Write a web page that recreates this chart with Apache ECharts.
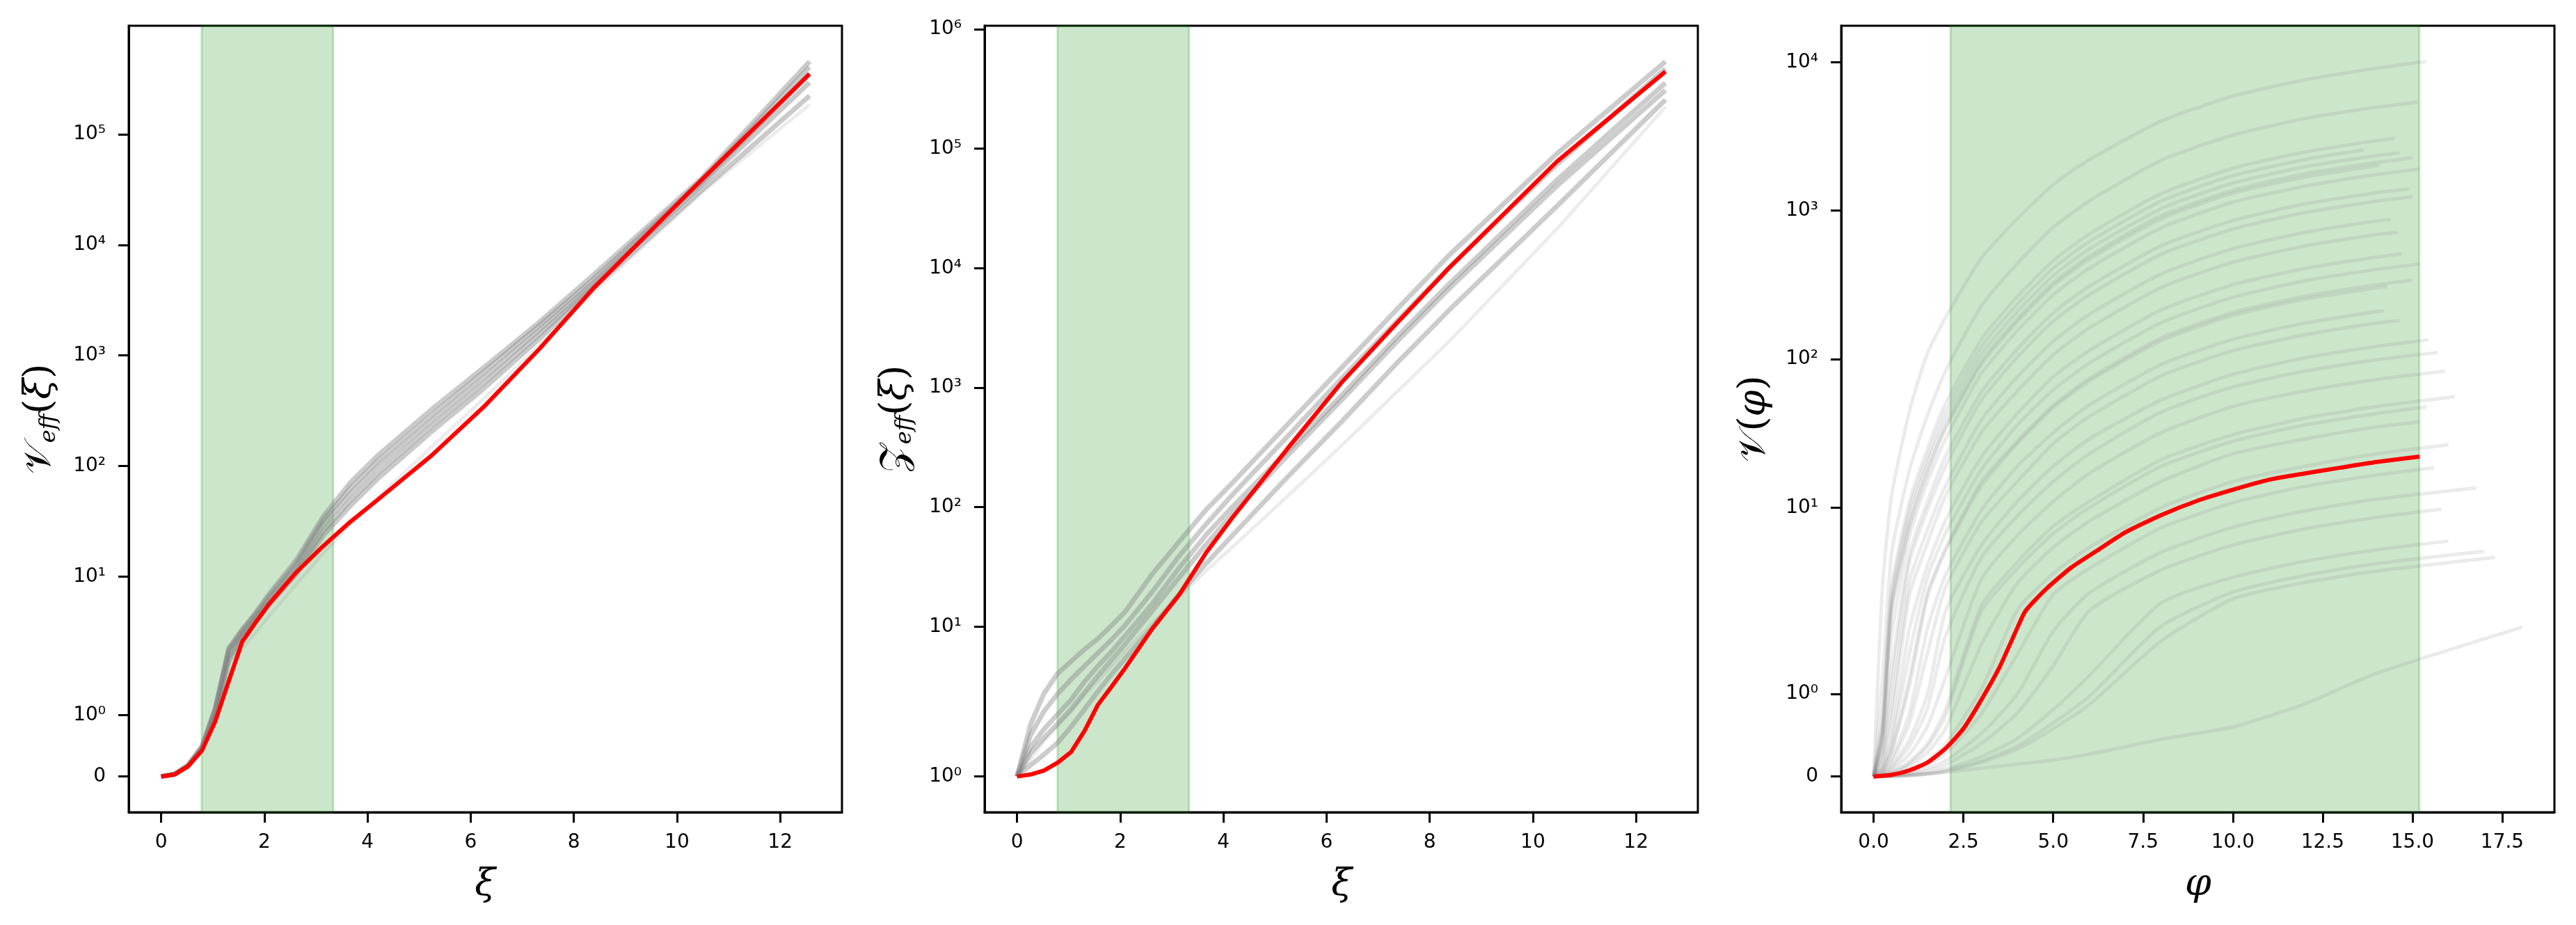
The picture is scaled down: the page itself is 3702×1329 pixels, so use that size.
<!DOCTYPE html>
<html>
<head>
<meta charset="utf-8">
<script src="https://cdn.jsdelivr.net/npm/echarts@6/dist/echarts.min.js"></script>
<style>
  html, body { margin: 0; padding: 0; background: #fff; }
  #chart { width: 3702px; height: 1329px; }
</style>
</head>
<body>
<div id="chart"></div>
<script>
// ---- panel 1 & 2: x grid (xi) ----
const xi = [0, 0.26, 0.52, 0.79, 1.05, 1.31, 1.57, 1.83, 2.09, 2.62, 3.14, 3.67, 4.19, 5.24, 6.28, 7.33, 8.38, 10.47, 12.57]

// V_eff(xi): red curve + gray ensemble
const veffRed = [0, 0.032, 0.166, 0.42, 0.90, 1.55, 2.56, 3.83, 5.62, 10.9, 18.8, 31.3, 49.1, 124, 352, 1143, 4056, 38560, 352400]
const veffGray = [
  [0, 0.036, 0.18, 0.49, 1.12, 2.24, 3.31, 4.68, 6.92, 14.1, 34.7, 70.8, 123, 324, 794, 2000, 5370, 39800, 457000],
  [0, 0.036, 0.18, 0.47, 1.08, 2.09, 3.09, 4.37, 6.17, 12.3, 29.5, 56.2, 97.7, 257, 646, 1700, 4570, 36300, 355000],
  [0, 0.036, 0.16, 0.45, 1.03, 1.94, 2.88, 4.07, 5.75, 11.2, 25.7, 49.0, 85.1, 229, 575, 1550, 4270, 34700, 295000],
  [0, 0.036, 0.18, 0.47, 1.10, 2.19, 3.24, 4.57, 6.61, 13.2, 32.4, 63.1, 110, 288, 724, 1860, 4900, 38000, 407000],
  [0, 0.036, 0.16, 0.45, 0.99, 1.87, 2.75, 3.89, 5.50, 10.5, 23.4, 43.7, 75.9, 204, 513, 1410, 4070, 30900, 224000]
]
const veffFaint = [
  [0, 0.036, 0.16, 0.43, 0.90, 1.62, 2.24, 3.09, 4.37, 8.51, 16.2, 29.5, 51.3, 148, 417, 1230, 3720, 29500, 186000]
]

// Z_eff(xi)
const zeffRed = [1.0, 1.03, 1.09, 1.21, 1.37, 1.69, 2.22, 3.13, 4.46, 9.57, 18.4, 41.8, 83.2, 308, 1090, 3350, 10100, 78300, 442000]
const zeffGray = [
  [1.0, 1.78, 2.75, 4.07, 5.13, 6.46, 7.94, 10.2, 13.2, 27.5, 51.3, 95.5, 162, 490, 1450, 4370, 12900, 91200, 537000],
  [1.0, 1.44, 1.71, 1.94, 2.45, 3.47, 4.68, 6.17, 8.32, 15.5, 30.9, 58.9, 102, 295, 851, 2570, 7410, 55000, 355000],
  [1.0, 1.17, 1.33, 1.51, 1.75, 2.04, 2.88, 3.98, 5.37, 9.77, 18.6, 33.9, 58.9, 178, 513, 1550, 4470, 33100, 257000],
  [1.0, 1.62, 1.98, 2.75, 3.63, 4.68, 6.03, 7.76, 10.2, 19.5, 38.9, 72.4, 129, 389, 1180, 3470, 10200, 74100, 468000],
  [1.0, 1.35, 1.58, 1.80, 2.04, 2.82, 3.89, 5.25, 7.08, 13.5, 25.7, 49.0, 89.1, 269, 776, 2340, 6760, 49000, 309000]
]
const zeffFaint = [
  [1.0, 1.26, 1.53, 1.76, 1.98, 2.69, 3.55, 4.68, 6.17, 10.7, 17.8, 29.5, 46.8, 123, 324, 891, 2450, 21400, 224000]
]

// ---- panel 3: V(phi) ----
const phiRed = [0, 0.5, 1.0, 1.5, 2.0, 2.5, 3.0, 3.5, 4.0, 4.23, 4.8, 5.5, 6.2, 7.0, 8.0, 9.0, 10.0, 11.0, 12.0, 13.0, 14.0, 15.2]
const vRed = [0, 0.02, 0.075, 0.17, 0.34, 0.58, 0.93, 1.32, 1.80, 2.02, 2.83, 3.95, 5.1, 6.8, 8.9, 11.1, 13.2, 15.4, 17.0, 18.6, 20.3, 22.1]
const phiGrid = [0, 0.25, 0.5, 1, 1.5, 2, 3, 4, 5, 6, 8, 10, 12, 14]
const vGray = [
  [0, 3, 12, 45, 110, 190, 480, 880, 1500, 2200, 4000, 5900, 7600, 9100],
  [0, 1.2, 4.9, 18, 42, 83, 228, 441, 772, 1160, 2180, 3230, 4170, 4970],
  [0, 0.73, 2.9, 11, 25, 50, 136, 263, 460, 694, 1300, 1930, 2480, 2960],
  [0, 0.65, 2.6, 9.8, 22, 44, 121, 234, 410, 618, 1160, 1720, 2210],
  [0, 0.58, 2.3, 8.7, 20, 39, 108, 209, 365, 551, 1030, 1530, 1970, 2350],
  [0, 0.52, 2.1, 7.8, 18, 35, 97, 187, 328, 494, 926, 1370, 1770, 2110],
  [0, 0.5, 2.0, 7.4, 17, 34, 92, 178, 312, 470, 881, 1310, 1680, 2010],
  [0, 0.43, 1.7, 6.5, 15, 29, 80, 155, 271, 409, 765, 1140, 1460, 1750],
  [0, 0.33, 1.3, 4.9, 11, 22, 60, 117, 205, 309, 579, 858, 1110, 1320],
  [0, 0.29, 1.1, 4.3, 9.7, 19, 53, 103, 180, 271, 507, 752, 969, 1160],
  [0, 0.21, 0.84, 3.2, 7.1, 14, 39, 76, 132, 200, 374, 554, 714, 853],
  [0, 0.17, 0.68, 2.6, 5.8, 12, 32, 61, 107, 162, 303, 449, 578, 690],
  [0, 0.12, 0.48, 1.8, 4.1, 8.2, 22, 43, 76, 114, 214, 317, 408, 487],
  [0, 0.1, 0.4, 1.5, 3.4, 6.7, 18, 36, 62, 94, 176, 261, 337, 402],
  [0, 0.08, 0.31, 1.2, 2.7, 5.3, 15, 28, 49, 74, 139, 206, 265, 317],
  [0, 0.07, 0.3, 1.1, 2.5, 5.1, 14, 27, 47, 71, 133, 197, 253, 302],
  [0, 0.05, 0.21, 0.77, 1.8, 3.5, 9.6, 19, 32, 49, 92, 136, 175, 209],
  [0, 0.04, 0.17, 0.65, 1.5, 2.9, 8.0, 15, 27, 41, 77, 114, 146, 175],
  [0, 0.03, 0.12, 0.45, 1.0, 2.0, 5.6, 11, 19, 29, 53, 79, 102, 122],
  [0, 0.025, 0.1, 0.37, 0.83, 1.7, 4.6, 8.8, 15, 23, 44, 65, 83, 99],
  [0, 0.018, 0.07, 0.27, 0.61, 1.2, 3.3, 6.5, 11, 17, 32, 48, 61, 73],
  [0, 0.012, 0.05, 0.18, 0.4, 0.81, 2.2, 4.3, 7.5, 11, 21, 31, 40, 48],
  [0, 0.011, 0.04, 0.16, 0.36, 0.73, 2.0, 3.9, 6.7, 10, 19, 28, 36, 43],
  [0, 0.009, 0.03, 0.13, 0.29, 0.58, 1.6, 3.1, 5.4, 8.1, 15, 23, 29, 35],
  [0, 0.006, 0.02, 0.09, 0.19, 0.39, 1.06, 2.05, 3.6, 5.4, 10, 15, 19, 23],
  [0, 0.004, 0.016, 0.06, 0.14, 0.28, 0.76, 1.48, 2.6, 3.9, 7.3, 10.8, 13.9, 16.6],
  [0, 0.003, 0.011, 0.04, 0.1, 0.19, 0.52, 1.0, 1.76, 2.66, 5.0, 7.4, 9.5, 11.4],
  [0, 0.002, 0.009, 0.03, 0.07, 0.14, 0.4, 0.77, 1.34, 2.02, 3.8, 5.6, 7.2, 8.6],
  [0, 0.001, 0.005, 0.02, 0.04, 0.09, 0.24, 0.46, 0.81, 1.22, 2.28, 3.4, 4.35, 5.2],
  [0, 0.001, 0.004, 0.015, 0.035, 0.07, 0.19, 0.37, 0.65, 0.97, 1.82, 2.7, 3.5, 4.2],
  [0, 0.001, 0.004, 0.014, 0.03, 0.06, 0.17, 0.33, 0.58, 0.87, 1.64, 2.43, 3.13, 3.74],
  [0, 0, 0.002, 0.01, 0.03, 0.05, 0.1, 0.15, 0.2, 0.27, 0.45, 0.6, 0.88, 1.25]
]
// last point of each gray line: [phi, V]
const vGrayEnd = [
  [15.37, 10100], [15.15, 5380], [14.51, 3060], [13.64, 2570], [14.64, 2450], [15.0, 2270],
  [14.09, 2020], [15.2, 1910], [14.9, 1400], [15.0, 1240], [14.4, 871], [14.6, 716],
  [14.7, 512], [15.2, 437], [15.0, 340], [14.3, 309], [14.2, 212], [14.64, 182],
  [15.44, 135], [15.7, 111], [15.9, 83], [16.18, 55.9], [15.4, 47.8], [15.2, 37.8],
  [16.0, 26.5], [15.6, 18.6], [16.78, 13.6], [15.8, 9.77], [16.0, 5.96], [17.0, 5.09],
  [17.3, 4.63], [18.05, 1.81]
]

// shaded bands and ticks
const bandXi = [0.785, 3.335]
const bandPhi = [2.14, 15.19]
const xiTicks = [0, 2, 4, 6, 8, 10, 12]
const phiTicks = [0, 2.5, 5, 7.5, 10, 12.5, 15, 17.5]
const yTicks1 = [0, 1, 10, 100, 1000, 10000, 100000]
const yTicks2 = [1, 10, 100, 1000, 10000, 100000, 1000000]
const yTicks3 = [0, 1, 10, 100, 1000, 10000]

// symlog, linthresh 2, linscale 1 (matplotlib style)
const LT = 2
const LS = 1 / (1 - 1 / 10)
function symlog(v) {
  const a = Math.abs(v)
  const t = a <= LT ? a / LT * LS : LS + Math.log10(a / LT)
  return v < 0 ? -t : t
}
function unsymlog(t) {
  return t <= LS ? t / LS * LT : LT * Math.pow(10, t - LS)
}
const SUP = '⁰¹²³⁴⁵⁶⁷⁸⁹'
function yLabel(t) {
  const v = unsymlog(t)
  if (v < 0.5) return '0'
  const e = Math.round(Math.log10(v))
  return '10' + String(e).split('').map(d => SUP[+d]).join('')
}

function pairs(xs, ys) { return ys.map((y, i) => [xs[i], symlog(y)]) }
function pad(lo, hi) { const m = (hi - lo) * 0.05; return [lo - m, hi + m] }

const allV1 = veffGray.concat(veffFaint, [veffRed]).flat()
const allV2 = zeffGray.concat(zeffFaint, [zeffRed]).flat()
const allV3 = vGray.flat().concat(vGrayEnd.map(p => p[1]), vRed)
const yr1 = pad(symlog(Math.min(...allV1)), symlog(Math.max(...allV1)))
const yr2 = pad(symlog(Math.min(...allV2)), symlog(Math.max(...allV2)))
const yr3 = pad(symlog(Math.min(...allV3)), symlog(Math.max(...allV3)))
const xr12 = pad(0, xi[xi.length - 1])
const xr3 = pad(0, Math.max(...vGrayEnd.map(p => p[0])))

const FONT = 'DejaVu Sans'
const grids = [
  { left: 185, top: 37, width: 1025, height: 1130 },
  { left: 1415, top: 37, width: 1025, height: 1130 },
  { left: 2646, top: 37, width: 1025, height: 1130 }
].map(g => Object.assign(g, { show: true, borderColor: '#000', borderWidth: 3, backgroundColor: 'transparent' }))

function xAxis(i, range, ticks, fmt) {
  return {
    type: 'value', gridIndex: i, min: range[0], max: range[1],
    axisLine: { show: true, onZero: false, lineStyle: { color: '#000', width: 3 } },
    axisTick: { show: true, length: 15, lineStyle: { color: '#000', width: 3 }, customValues: ticks },
    axisLabel: { customValues: ticks, formatter: fmt, color: '#000', fontFamily: FONT, fontSize: 28, margin: 30 },
    splitLine: { show: false }
  }
}
function yAxis(i, range, ticks) {
  const tv = ticks.map(symlog)
  return {
    type: 'value', gridIndex: i, min: range[0], max: range[1],
    axisLine: { show: true, onZero: false, lineStyle: { color: '#000', width: 3 } },
    axisTick: { show: true, length: 15, lineStyle: { color: '#000', width: 3 }, customValues: tv },
    axisLabel: { customValues: tv, formatter: yLabel, color: '#000', fontFamily: FONT, fontSize: 28, margin: 33 },
    splitLine: { show: false }
  }
}

function grayLine(i, data, opacity, width, smooth) {
  return {
    type: 'line', xAxisIndex: i, yAxisIndex: i, data: data, showSymbol: false, silent: true,
    smooth: smooth || false,
    lineStyle: { color: '#808080', opacity: opacity, width: width }, z: 3, animation: false
  }
}
function redLine(i, data, smooth) {
  return {
    type: 'line', xAxisIndex: i, yAxisIndex: i, data: data, showSymbol: false, silent: true,
    smooth: smooth || false,
    lineStyle: { color: '#ff0000', width: 6 }, z: 10, animation: false
  }
}
function band(i, lo, hi) {
  return {
    type: 'line', xAxisIndex: i, yAxisIndex: i, data: [], silent: true, z: 1, animation: false,
    markArea: {
      silent: true,
      itemStyle: { color: 'rgba(0,128,0,0.2)', borderColor: 'rgba(0,128,0,0.2)', borderWidth: 3 },
      data: [[{ xAxis: lo }, { xAxis: hi }]]
    }
  }
}

const series = []
series.push(band(0, bandXi[0], bandXi[1]))
series.push(band(1, bandXi[0], bandXi[1]))
series.push(band(2, bandPhi[0], bandPhi[1]))
veffGray.forEach(ys => series.push(grayLine(0, pairs(xi, ys), 0.42, 7)))
veffFaint.forEach(ys => series.push(grayLine(0, pairs(xi, ys), 0.15, 5)))
zeffGray.forEach(ys => series.push(grayLine(1, pairs(xi, ys), 0.4, 7)))
zeffFaint.forEach(ys => series.push(grayLine(1, pairs(xi, ys), 0.15, 5)))
vGray.forEach((ys, k) => {
  const d = pairs(phiGrid, ys)
  d.push([vGrayEnd[k][0], symlog(vGrayEnd[k][1])])
  series.push(grayLine(2, d, 0.16, 5, 0.2))
})
series.push(redLine(0, pairs(xi, veffRed)))
series.push(redLine(1, pairs(xi, zeffRed)))
series.push(redLine(2, pairs(phiRed, vRed), 0.2))

const mathRich = {
  m: { fontFamily: 'DejaVu Serif', fontSize: 54, color: '#000' },
  g: { fontFamily: 'DejaVu Serif', fontStyle: 'italic', fontSize: 54, color: '#000' },
  s: { fontFamily: 'DejaVu Serif', fontStyle: 'italic', fontSize: 32, color: '#000', padding: [26, 0, 0, 0] }
}
function title(x, y, text, rot) {
  return {
    type: 'text', x: x, y: y, rotation: rot ? Math.PI / 2 : 0, silent: true,
    style: { text: text, rich: mathRich, align: 'center', verticalAlign: 'middle' }
  }
}

const chart = echarts.init(document.getElementById('chart'), null, { renderer: 'canvas' })
chart.setOption({
  backgroundColor: '#fff',
  animation: false,
  grid: grids,
  xAxis: [
    xAxis(0, xr12, xiTicks, v => String(v)),
    xAxis(1, xr12, xiTicks, v => String(v)),
    xAxis(2, xr3, phiTicks, v => v.toFixed(1))
  ],
  yAxis: [yAxis(0, yr1, yTicks1), yAxis(1, yr2, yTicks2), yAxis(2, yr3, yTicks3)],
  series: series,
  graphic: [
    title(58, 602, '{m|𝒱}{s|eff}{m|(}{g|ξ}{m|)}', true),
    title(1288, 602, '{m|𝒵}{s|eff}{m|(}{g|ξ}{m|)}', true),
    title(2522, 602, '{m|𝒱(}{g|φ}{m|)}', true),
    title(697, 1272, '{g|ξ}', false),
    title(1928, 1272, '{g|ξ}', false),
    title(3159, 1272, '{g|φ}', false)
  ]
})
</script>
</body>
</html>
